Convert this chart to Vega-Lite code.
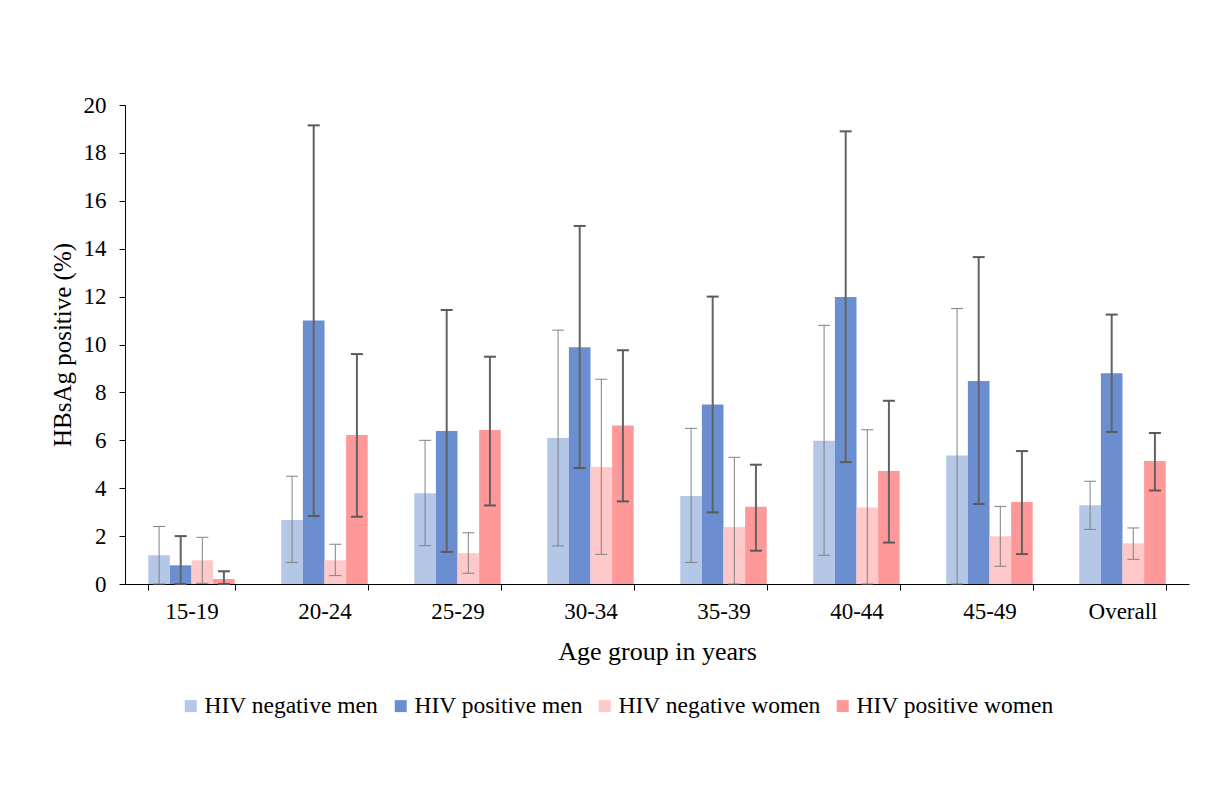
{
  "$schema": "https://vega.github.io/schema/vega-lite/v6.json",
  "width": 1064,
  "height": 479,
  "autosize": {"type": "none"},
  "padding": {"left": 125, "top": 105, "right": 21, "bottom": 203},
  "background": "white",
  "config": {
    "font": "Liberation Serif",
    "view": {"stroke": null},
    "axis": {"labelFont": "Liberation Serif", "titleFont": "Liberation Serif", "labelColor": "black", "titleColor": "black", "titleFontWeight": "normal", "domainColor": "black", "tickColor": "black", "grid": false}
  },
  "data": {
    "values": [
      {"age": "15-19", "group": "HIV negative men", "hiv": "neg", "value": 1.2, "lo": 0, "hi": 2.4},
      {"age": "15-19", "group": "HIV positive men", "hiv": "pos", "value": 0.78, "lo": 0, "hi": 2.0},
      {"age": "15-19", "group": "HIV negative women", "hiv": "neg", "value": 0.99, "lo": 0.03, "hi": 1.95},
      {"age": "15-19", "group": "HIV positive women", "hiv": "pos", "value": 0.21, "lo": 0, "hi": 0.53},
      {"age": "20-24", "group": "HIV negative men", "hiv": "neg", "value": 2.67, "lo": 0.9, "hi": 4.5},
      {"age": "20-24", "group": "HIV positive men", "hiv": "pos", "value": 11.0, "lo": 2.84, "hi": 19.15},
      {"age": "20-24", "group": "HIV negative women", "hiv": "neg", "value": 0.99, "lo": 0.35, "hi": 1.66},
      {"age": "20-24", "group": "HIV positive women", "hiv": "pos", "value": 6.22, "lo": 2.81, "hi": 9.6},
      {"age": "25-29", "group": "HIV negative men", "hiv": "neg", "value": 3.79, "lo": 1.6, "hi": 6.0},
      {"age": "25-29", "group": "HIV positive men", "hiv": "pos", "value": 6.39, "lo": 1.34, "hi": 11.44},
      {"age": "25-29", "group": "HIV negative women", "hiv": "neg", "value": 1.29, "lo": 0.45, "hi": 2.14},
      {"age": "25-29", "group": "HIV positive women", "hiv": "pos", "value": 6.43, "lo": 3.28, "hi": 9.49},
      {"age": "30-34", "group": "HIV negative men", "hiv": "neg", "value": 6.1, "lo": 1.59, "hi": 10.6},
      {"age": "30-34", "group": "HIV positive men", "hiv": "pos", "value": 9.88, "lo": 4.84, "hi": 14.95},
      {"age": "30-34", "group": "HIV negative women", "hiv": "neg", "value": 4.89, "lo": 1.24, "hi": 8.55},
      {"age": "30-34", "group": "HIV positive women", "hiv": "pos", "value": 6.62, "lo": 3.45, "hi": 9.76},
      {"age": "35-39", "group": "HIV negative men", "hiv": "neg", "value": 3.67, "lo": 0.9, "hi": 6.5},
      {"age": "35-39", "group": "HIV positive men", "hiv": "pos", "value": 7.5, "lo": 2.99, "hi": 12.0},
      {"age": "35-39", "group": "HIV negative women", "hiv": "neg", "value": 2.38, "lo": 0, "hi": 5.29},
      {"age": "35-39", "group": "HIV positive women", "hiv": "pos", "value": 3.23, "lo": 1.39, "hi": 4.98},
      {"age": "40-44", "group": "HIV negative men", "hiv": "neg", "value": 5.98, "lo": 1.2, "hi": 10.8},
      {"age": "40-44", "group": "HIV positive men", "hiv": "pos", "value": 11.98, "lo": 5.09, "hi": 18.9},
      {"age": "40-44", "group": "HIV negative women", "hiv": "neg", "value": 3.19, "lo": 0, "hi": 6.44},
      {"age": "40-44", "group": "HIV positive women", "hiv": "pos", "value": 4.72, "lo": 1.73, "hi": 7.65},
      {"age": "45-49", "group": "HIV negative men", "hiv": "neg", "value": 5.37, "lo": 0, "hi": 11.5},
      {"age": "45-49", "group": "HIV positive men", "hiv": "pos", "value": 8.48, "lo": 3.34, "hi": 13.65},
      {"age": "45-49", "group": "HIV negative women", "hiv": "neg", "value": 1.99, "lo": 0.74, "hi": 3.24},
      {"age": "45-49", "group": "HIV positive women", "hiv": "pos", "value": 3.42, "lo": 1.25, "hi": 5.55},
      {"age": "Overall", "group": "HIV negative men", "hiv": "neg", "value": 3.29, "lo": 2.28, "hi": 4.29},
      {"age": "Overall", "group": "HIV positive men", "hiv": "pos", "value": 8.8, "lo": 6.35, "hi": 11.25},
      {"age": "Overall", "group": "HIV negative women", "hiv": "neg", "value": 1.7, "lo": 1.03, "hi": 2.34},
      {"age": "Overall", "group": "HIV positive women", "hiv": "pos", "value": 5.14, "lo": 3.9, "hi": 6.3}
    ]
  },
  "encoding": {
    "x": {
      "field": "age", "type": "nominal",
      "sort": ["15-19", "20-24", "25-29", "30-34", "35-39", "40-44", "45-49", "Overall"],
      "scale": {"paddingInner": 0.35, "paddingOuter": 0.175},
      "axis": {"title": "Age group in years", "labelAngle": 0, "labelFontSize": 23, "titleFontSize": 26, "tickBand": "extent", "tickSize": 6, "labelPadding": 10, "titlePadding": 15}
    },
    "xOffset": {
      "field": "group", "type": "nominal",
      "sort": ["HIV negative men", "HIV positive men", "HIV negative women", "HIV positive women"],
      "scale": {"domain": ["HIV negative men", "HIV positive men", "HIV negative women", "HIV positive women"], "paddingInner": 0, "paddingOuter": 0}
    }
  },
  "layer": [
    {
      "mark": {"type": "bar", "stroke": null},
      "encoding": {
        "y": {
          "field": "value", "type": "quantitative",
          "scale": {"domain": [0, 20]},
          "axis": {"title": "HBsAg positive (%)", "values": [0, 2, 4, 6, 8, 10, 12, 14, 16, 18, 20], "labelFontSize": 23, "titleFontSize": 25, "tickSize": 6, "labelPadding": 13, "titlePadding": 8}
        },
        "fill": {
          "field": "group", "type": "nominal",
          "sort": ["HIV negative men", "HIV positive men", "HIV negative women", "HIV positive women"],
          "scale": {"domain": ["HIV negative men", "HIV positive men", "HIV negative women", "HIV positive women"], "range": ["#B4C7E7", "#6A8ED0", "#FFC9C9", "#FF9999"]},
          "legend": {
            "title": null, "orient": "none", "direction": "horizontal", "legendX": 54, "legendY": 589,
            "symbolType": "square", "symbolSize": 144, "symbolStrokeWidth": 0, "symbolOpacity": 1,
            "labelFont": "Liberation Serif", "labelFontSize": 23.5, "labelColor": "black", "labelOffset": 2,
            "columnPadding": 10, "padding": 0, "labelLimit": 400
          }
        }
      }
    },
    {
      "transform": [{"filter": "datum.hiv === 'neg'"}],
      "mark": {"type": "rule", "color": "#808080", "strokeWidth": 1},
      "encoding": {
        "y": {"field": "lo", "type": "quantitative"},
        "y2": {"field": "hi"}
      }
    },
    {
      "transform": [{"filter": "datum.hiv === 'neg'"}],
      "mark": {"type": "tick", "size": 12, "thickness": 1, "color": "#808080", "opacity": 1},
      "encoding": {"y": {"field": "hi", "type": "quantitative"}}
    },
    {
      "transform": [{"filter": "datum.hiv === 'neg'"}],
      "mark": {"type": "tick", "size": 12, "thickness": 1, "color": "#808080", "opacity": 1},
      "encoding": {"y": {"field": "lo", "type": "quantitative"}}
    },
    {
      "transform": [{"filter": "datum.hiv === 'pos'"}],
      "mark": {"type": "rule", "color": "#636363", "strokeWidth": 2},
      "encoding": {
        "y": {"field": "lo", "type": "quantitative"},
        "y2": {"field": "hi"}
      }
    },
    {
      "transform": [{"filter": "datum.hiv === 'pos'"}],
      "mark": {"type": "tick", "size": 12, "thickness": 2, "color": "#5a5a5a", "opacity": 1},
      "encoding": {"y": {"field": "hi", "type": "quantitative"}}
    },
    {
      "transform": [{"filter": "datum.hiv === 'pos'"}],
      "mark": {"type": "tick", "size": 12, "thickness": 2, "color": "#5a5a5a", "opacity": 1},
      "encoding": {"y": {"field": "lo", "type": "quantitative"}}
    }
  ]
}
